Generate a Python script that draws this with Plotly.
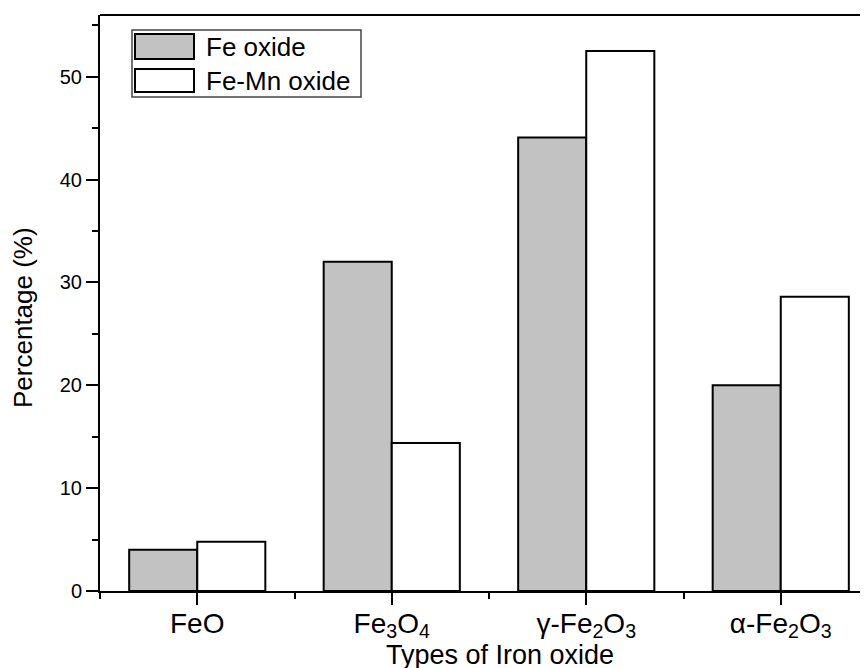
import plotly.graph_objects as go

categories = ["FeO", "Fe<sub>3</sub>O<sub>4</sub>", "γ-Fe<sub>2</sub>O<sub>3</sub>", "α-Fe<sub>2</sub>O<sub>3</sub>"]
series_names = ["Fe oxide", "Fe-Mn oxide"]
fe_oxide = [4.0, 32.0, 44.1, 20.0]
fe_mn_oxide = [4.8, 14.4, 52.5, 28.6]
y_ticks = [0, 10, 20, 30, 40, 50]
x_title = "Types of Iron oxide"
y_title = "Percentage (%)"

FONT = "Liberation Sans, Arial, sans-serif"
OFF = 8  # page body margin in the browser
W, H = 868 - OFF, 668 - OFF
# target plot-area edges in screen pixels
PL, PR, PT, PB = 100, 868, 15, 591
L, R, T, B = PL - OFF, 0, PT - OFF, (H + OFF) - PB
pw, ph = PR - PL, PB - PT

xpos = list(range(len(categories)))

fig = go.Figure()
fig.add_trace(go.Bar(x=xpos, y=fe_oxide, name=series_names[0],
                     marker=dict(color="#c2c2c2", line=dict(color="black", width=2))))
fig.add_trace(go.Bar(x=xpos, y=fe_mn_oxide, name=series_names[1],
                     marker=dict(color="white", line=dict(color="black", width=2))))

fig.update_layout(
    width=W, height=H,
    margin=dict(l=L, r=R, t=T, b=B, pad=0, autoexpand=False),
    paper_bgcolor="white", plot_bgcolor="white",
    barmode="group", bargap=0.3, bargroupgap=0,
    showlegend=False,
    font=dict(family=FONT, color="black"),
)

fig.update_xaxes(
    automargin=False,
    range=[-0.5, -0.5 + pw / 194.5],
    tickmode="array", tickvals=xpos, ticktext=categories,
    ticks="outside", ticklen=12, tickwidth=2, tickcolor="black",
    ticklabelstandoff=-6,
    minor=dict(tick0=0, dtick=0.5, ticks="outside", ticklen=6, tickwidth=2, tickcolor="black"),
    showline=True, linecolor="black", linewidth=2,
    showgrid=False, zeroline=False,
    tickfont=dict(size=28, family=FONT),
)
fig.update_yaxes(
    automargin=False,
    range=[0, 56],
    tickmode="array", tickvals=y_ticks,
    ticks="outside", ticklen=12, tickwidth=2, tickcolor="black",
    minor=dict(tick0=0, dtick=5, ticks="outside", ticklen=6, tickwidth=2, tickcolor="black"),
    showline=True, linecolor="black", linewidth=2,
    showgrid=False, zeroline=False,
    tickfont=dict(size=20, family=FONT),
)

# top frame line
fig.add_shape(type="line", xref="paper", yref="paper", x0=0, x1=1, y0=1, y1=1,
              line=dict(color="black", width=2))

def px_x(p):
    return (p - PL) / pw

def px_y(p):
    return (PB - p) / ph

# axis titles
fig.add_annotation(xref="paper", yref="paper", x=px_x(500), y=px_y(655),
                   text=x_title, showarrow=False, xanchor="center", yanchor="middle",
                   font=dict(size=27, family=FONT, color="black"))
fig.add_annotation(xref="paper", yref="paper", x=px_x(23), y=px_y(318),
                   text=y_title, showarrow=False, xanchor="center", yanchor="middle",
                   textangle=-90, font=dict(size=26, family=FONT, color="black"))

# manual legend
fig.add_shape(type="rect", xref="paper", yref="paper",
              x0=px_x(132), x1=px_x(361), y0=px_y(97), y1=px_y(30),
              line=dict(color="#444444", width=1.5), fillcolor="white", layer="above")
swatches = [("#c2c2c2", 34, 59), ("white", 69, 92)]
for name, (col, ya, yb) in zip(series_names, swatches):
    fig.add_shape(type="rect", xref="paper", yref="paper",
                  x0=px_x(135), x1=px_x(194), y0=px_y(yb), y1=px_y(ya),
                  line=dict(color="black", width=2), fillcolor=col, layer="above")
    fig.add_annotation(xref="paper", yref="paper", x=px_x(204), y=px_y((ya + yb) / 2),
                       text=name, showarrow=False, xanchor="left", yanchor="middle",
                       font=dict(size=26, family=FONT, color="black"))

fig.write_html("out.html")
